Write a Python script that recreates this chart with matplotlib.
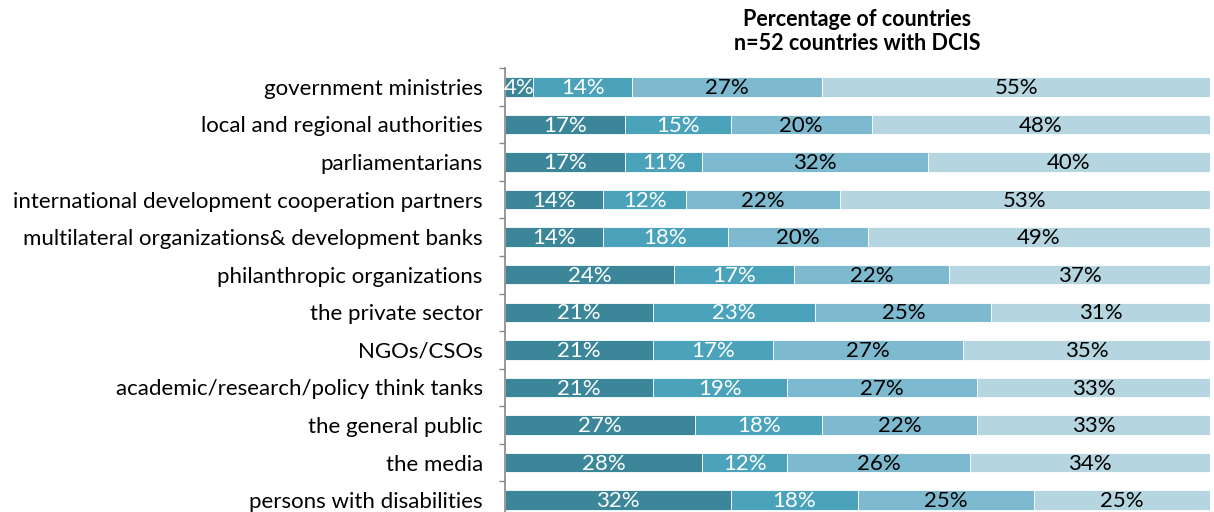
import matplotlib
matplotlib.use('Agg')
import matplotlib.pyplot as plt
import numpy as np

# ── Daten ─────────────────────────────────────────────────────────────────────
categories = [
    'government ministries',
    'local and regional authorities',
    'parliamentarians',
    'international development cooperation partners',
    'multilateral organizations& development banks',
    'philanthropic organizations',
    'the private sector',
    'NGOs/CSOs',
    'academic/research/policy think tanks',
    'the general public',
    'the media',
    'persons with disabilities',
]
seg1 = [4, 17, 17, 14, 14, 24, 21, 21, 21, 27, 28, 32]
seg2 = [14, 15, 11, 12, 18, 17, 23, 17, 19, 18, 12, 18]
seg3 = [27, 20, 32, 22, 20, 22, 25, 27, 27, 22, 26, 25]
seg4 = [55, 48, 40, 53, 49, 37, 31, 35, 33, 33, 34, 25]

title = 'Percentage of countries\nn=52 countries with DCIS'

# ── Stil ──────────────────────────────────────────────────────────────────────
_COLORS = ['#3b8799', '#4aa3bb', '#7dbad0', '#b5d5e0']
_TXT_C = ['white', 'white', 'black', 'black']
_FONT = 'Lato'
_FS_CAT = 16
_FS_VAL = 16
_FS_TITLE = 15.5

plt.rcParams['font.family'] = [_FONT, 'DejaVu Sans']

fig = plt.figure(figsize=(12.14, 5.12), dpi=100)
ax = fig.add_axes([505 / 1214, -7 / 512, 705 / 1214, (519 - 68) / 512])

series = np.array([seg1, seg2, seg3, seg4], dtype=float)
shares = series / series.sum(axis=0) * 100   # 100%-gestapelt
y = np.arange(len(categories))

left = np.zeros(len(categories))
for k in range(4):
    ax.barh(y, shares[k], left=left, height=0.52, color=_COLORS[k],
            edgecolor='white', linewidth=0.6, zorder=2)
    for i in range(len(categories)):
        ax.text(left[i] + shares[k][i] / 2, y[i] + 0.03, f'{int(series[k][i])}%',
                ha='center', va='center', fontsize=_FS_VAL,
                color=_TXT_C[k], zorder=3)
    left += shares[k]

ax.set_xlim(0, 100)
ax.set_ylim(len(categories) - 0.5, -0.5)
ax.set_xticks([])

ax.set_yticks(y)
ax.set_yticklabels(categories, fontsize=_FS_CAT)
ax.set_yticks(np.arange(-0.5, len(categories), 1), minor=True)
ax.tick_params(axis='y', which='major', length=0, pad=16)
ax.tick_params(axis='y', which='minor', length=4, width=1, color='#888888')

for s in ['top', 'right', 'bottom']:
    ax.spines[s].set_visible(False)
ax.spines['left'].set_color('#888888')
ax.spines['left'].set_linewidth(1.2)

fig.text((505 + 1210) / 2 / 1214, 1 - 9 / 512, title, ha='center', va='top',
         fontsize=_FS_TITLE, fontweight='bold', linespacing=1.2)

fig.savefig('out.png', dpi=100, facecolor='white')
